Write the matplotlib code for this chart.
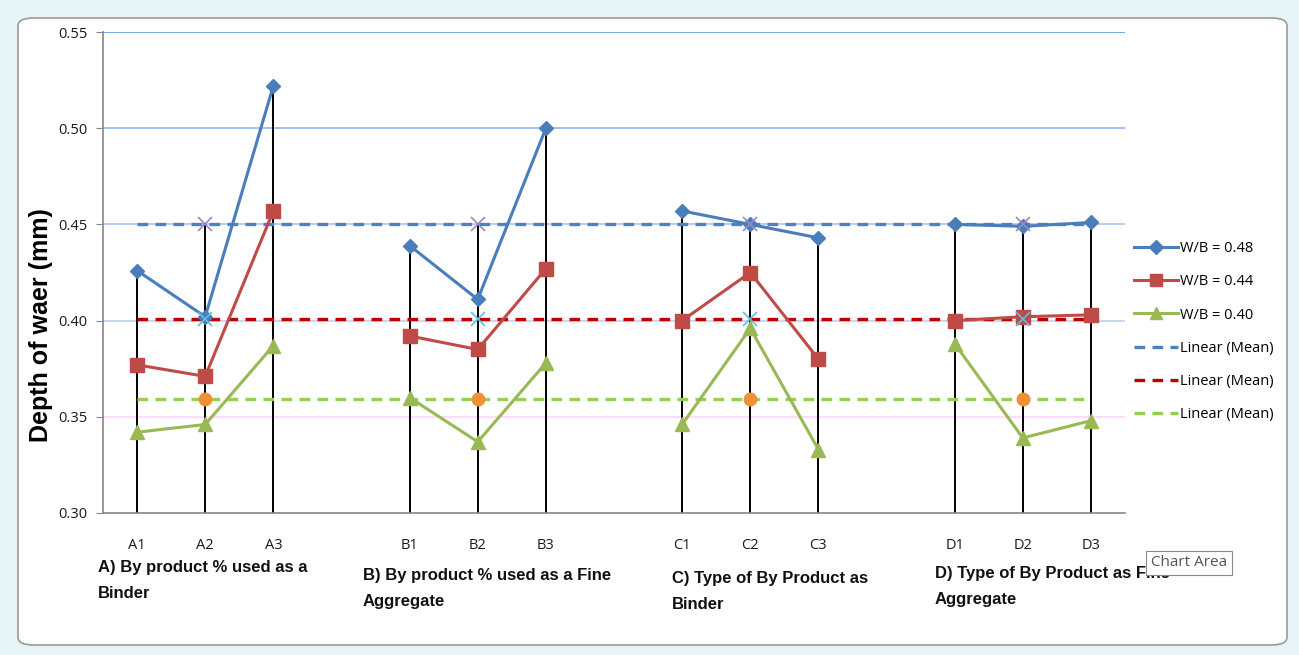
import numpy as np
import matplotlib.pyplot as plt
from matplotlib.patches import FancyBboxPatch

# category slots: four groups of three, with an empty slot between groups
labels = ["A1", "A2", "A3", "", "B1", "B2", "B3", "", "C1", "C2", "C3", "", "D1", "D2", "D3"]
wb_048 = [0.426, 0.402, 0.522, None, 0.439, 0.411, 0.500, None, 0.457, 0.450, 0.443, None, 0.450, 0.449, 0.451]
wb_044 = [0.377, 0.371, 0.457, None, 0.392, 0.385, 0.427, None, 0.400, 0.425, 0.380, None, 0.400, 0.402, 0.403]
wb_040 = [0.342, 0.346, 0.387, None, 0.360, 0.337, 0.378, None, 0.346, 0.396, 0.333, None, 0.388, 0.339, 0.348]
means = [0.450, 0.401, 0.359]
mean_slots = [1, 5, 9, 13]

group_titles = [
    "A) By product % used as a\nBinder",
    "B) By product % used as a Fine\nAggregate",
    "C) Type of By Product as\nBinder",
    "D) Type of By Product as Fine\nAggregate",
]

x = np.arange(len(labels))


def to_arr(vals):
    return np.array([np.nan if v is None else v for v in vals], dtype=float)


s48, s44, s40 = to_arr(wb_048), to_arr(wb_044), to_arr(wb_040)

fig = plt.figure(figsize=(12.99, 6.55), dpi=100, facecolor="#E6F3F7")
# chart area frame
frame = FancyBboxPatch((18 / 1299, 10 / 655), 1269 / 1299, 627 / 655,
                       boxstyle="round,pad=0,rounding_size=0.012",
                       transform=fig.transFigure, facecolor="white",
                       edgecolor="#9A9A9A", lw=1.2, zorder=0)
fig.patches.append(frame)

ax = fig.add_axes([103 / 1299, 1 - 513 / 655, 1022 / 1299, 481 / 655])
ax.set_zorder(2)
ax.set_facecolor("none")

# horizontal gridlines
grid_cols = {0.35: "#FFD6FF", 0.40: "#BCD2F0", 0.45: "#A9C6EE", 0.50: "#8DB8EE", 0.55: "#5E97E0"}
for yv, c in grid_cols.items():
    ax.axhline(yv, color=c, lw=1.2, zorder=1)

# drop lines from the highest point down to the axis
for i in range(len(labels)):
    if labels[i] == "":
        continue
    top = np.nanmax([s48[i], s44[i], s40[i]])
    if i in mean_slots:
        top = max(top, means[0])
    ax.vlines(x[i], 0.30, top, color="black", lw=1.4, zorder=2)

# mean trend lines
trend_cols = ["#4F81BD", "#C00000", "#92D050"]
for m, c in zip(means, trend_cols):
    ax.plot([x[0], x[-1]], [m, m], color=c, lw=2.4, ls=(0, (3.2, 2.2)), zorder=3)

# series, drawn group by group
series = [
    (s48, "#4A7EBB", "D", 7, "W/B = 0.48"),
    (s44, "#BE4B48", "s", 9.5, "W/B = 0.44"),
    (s40, "#98B954", "^", 9.5, "W/B = 0.40"),
]
for vals, c, mk, ms, lab in series:
    ax.plot(x, vals, color=c, lw=2.2, marker=mk, ms=ms, mfc=c, mec=c, zorder=4)

# mean markers
ax.plot(x[mean_slots], [means[0]] * 4, ls="none", marker="x", ms=10, mew=1.2, color="#9D86C0", zorder=5)
ax.plot(x[mean_slots], [means[1]] * 4, ls="none", marker="x", ms=10, mew=1.2, color="#5BC0DE", zorder=5)
ax.plot(x[mean_slots], [means[2]] * 4, ls="none", marker="o", ms=9, color="#F0913A", zorder=5)

ax.set_xlim(-0.5, len(labels) - 0.5)
ax.set_ylim(0.30, 0.55)
ax.set_yticks([0.30, 0.35, 0.40, 0.45, 0.50, 0.55])
ax.yaxis.set_major_formatter(plt.FuncFormatter(lambda v, p: f"{v:.2f}"))
ax.set_xticks(x)
ax.set_xticklabels(labels)
ax.tick_params(axis="x", length=0, pad=18, labelsize=10.5, labelcolor="#1a1a1a")
ax.tick_params(axis="y", length=5, color="#868686", labelsize=10.5, labelcolor="#1a1a1a", pad=6)
for lab in ax.get_xticklabels() + ax.get_yticklabels():
    lab.set_family("Open Sans")

for side in ["top", "right"]:
    ax.spines[side].set_visible(False)
ax.spines["left"].set_color("#868686")
ax.spines["bottom"].set_color("#868686")
ax.spines["left"].set_linewidth(1.2)
ax.spines["bottom"].set_linewidth(1.2)

ax.set_ylabel("Depth of waer (mm)", fontsize=18, fontweight="bold", family="Liberation Sans")
ax.yaxis.set_label_coords(-50 / 1022, 0.39)

# legend
handles = []
for vals, c, mk, ms, lab in series:
    h, = ax.plot([], [], color=c, lw=2.2, marker=mk, ms=ms * 0.95, mfc=c, mec=c, label=lab)
    handles.append(h)
for c in trend_cols:
    h, = ax.plot([], [], color=c, lw=2.4, ls=(0, (3.2, 2.2)), label="Linear (Mean)")
    handles.append(h)
ax.legend(handles=handles, loc="center left", bbox_to_anchor=(1.0, 0.377), frameon=False,
          prop={"family": "Open Sans", "size": 10.5}, handlelength=3.0, handletextpad=0.2,
          labelspacing=1.25, borderaxespad=0.2)

# group titles under the axis
title_pos = [(98, 567), (363, 575), (672, 578), (935, 573)]
for t, (px, py) in zip(group_titles, title_pos):
    fig.text(px / 1299, 1 - (py - 7) / 655, t, ha="left", va="top", fontsize=12,
             fontweight="bold", family="Liberation Sans", linespacing=1.95, color="#111111")

# hover tooltip box
fig.text(1151 / 1299, 1 - 563 / 655, "Chart Area", ha="left", va="center", fontsize=11,
         family="Open Sans", color="#555555", zorder=10,
         bbox=dict(boxstyle="square,pad=0.3", facecolor="white", edgecolor="#8A8A8A", lw=0.8))

fig.savefig("out.png", dpi=100, facecolor=fig.get_facecolor())
